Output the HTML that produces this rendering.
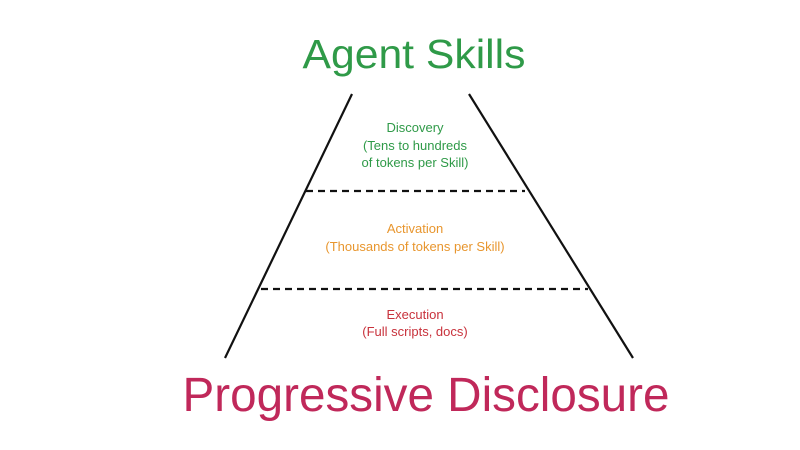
<!DOCTYPE html>
<html><head><meta charset="utf-8"><style>
html,body{margin:0;padding:0;background:#fff;}
svg{display:block;}
text{font-family:"Liberation Sans",sans-serif;}
</style></head><body>
<svg width="800" height="450" viewBox="0 0 800 450" xmlns="http://www.w3.org/2000/svg">
<rect width="800" height="450" fill="#fff"/>
<text x="414" y="68" font-size="41" fill="#2f9a48" text-anchor="middle" textLength="223" lengthAdjust="spacingAndGlyphs">Agent Skills</text>
<line x1="352" y1="94" x2="225" y2="358" stroke="#111" stroke-width="2.2"/>
<line x1="469" y1="94" x2="633" y2="358" stroke="#111" stroke-width="2.2"/>
<line x1="306" y1="191" x2="525" y2="191" stroke="#111" stroke-width="2.2" stroke-dasharray="7,5"/>
<line x1="261" y1="289" x2="588" y2="289" stroke="#111" stroke-width="2.2" stroke-dasharray="7,5"/>
<g font-size="13" text-anchor="middle">
<text x="415" y="132" fill="#2f9a48">Discovery</text>
<text x="415" y="150" fill="#2f9a48">(Tens to hundreds</text>
<text x="415" y="167" fill="#2f9a48">of tokens per Skill)</text>
<text x="415" y="233" fill="#e8962e">Activation</text>
<text x="415" y="251" fill="#e8962e">(Thousands of tokens per Skill)</text>
<text x="415" y="319" fill="#c8323c">Execution</text>
<text x="415" y="336" fill="#c8323c">(Full scripts, docs)</text>
</g>
<text x="426" y="411" font-size="48" fill="#c0285a" text-anchor="middle" textLength="487" lengthAdjust="spacingAndGlyphs">Progressive Disclosure</text>
</svg>
</body></html>
